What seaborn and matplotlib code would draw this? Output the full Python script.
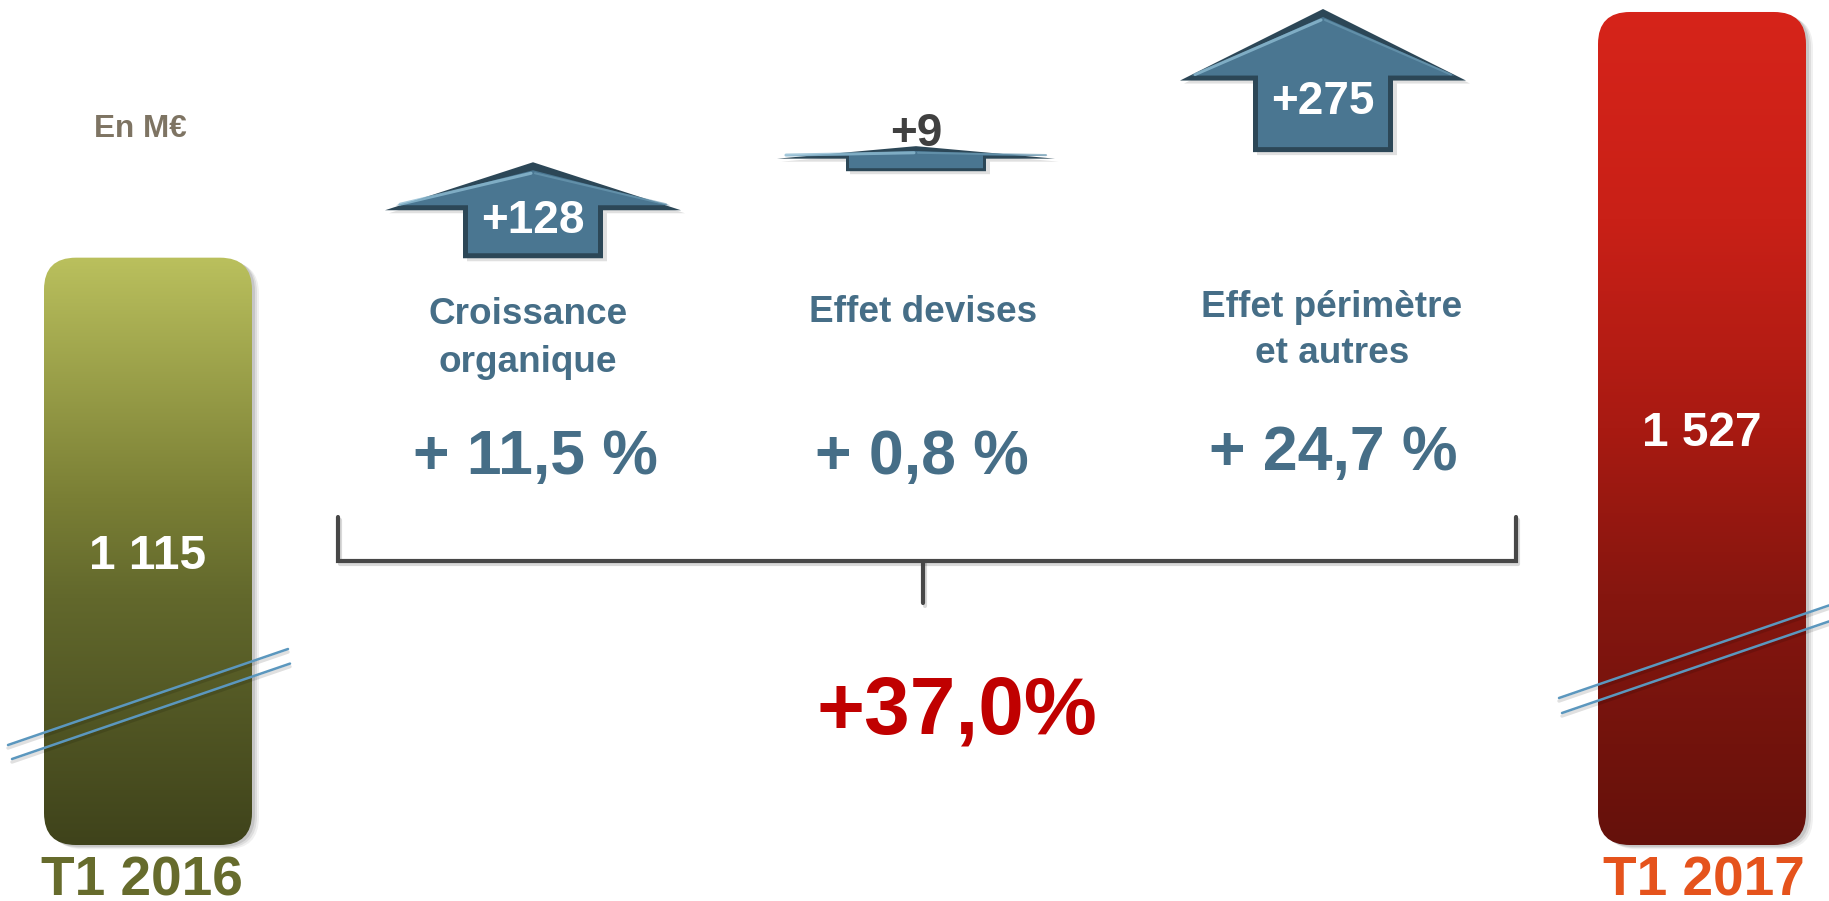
import matplotlib
matplotlib.use("Agg")
import matplotlib.pyplot as plt
from matplotlib.patches import FancyBboxPatch, Polygon
from matplotlib.colors import LinearSegmentedColormap
import numpy as np
import seaborn as sns

# data, in M€
periods = ["T1 2016", "T1 2017"]
revenue = [1115, 1527]
effects = ["Croissance\norganique", "Effet devises", "Effet périmètre\net autres"]
deltas = [128, 9, 275]
effect_pct = [11.5, 0.8, 24.7]
total_pct = 37.0
unit_label = "En M€"

# layout (figure pixels, 1829 x 901)
W, H = 1829, 901
bar_px = [148, 1702]          # bar centres
bar_w_px = 208
floor = 130                   # axis break, bars start here
y_lo, y_hi = 36.1, 1547.1     # M€ range of the figure height
k = H / (y_hi - y_lo)         # px per M€

arrow_x = [533, 916, 1323]
arrow_base = [1114, 1260, 1292]   # M€, as drawn in the picture
arrow_tip = [1275, 1302, 1532]
arrow_wing = [148, 139, 143]
shaft_hw = 70

bar_cmaps = [
    LinearSegmentedColormap.from_list("olive", [(0, "#BAC05D"), (0.41, "#7A7F35"),
                                                (0.58, "#62682C"), (1, "#3F431B")]),
    LinearSegmentedColormap.from_list("red", [(0, "#D6241A"), (0.25, "#C92017"),
                                              (0.5, "#A81A12"), (0.7, "#86160F"), (1, "#65110B")]),
]
period_colors = ["#666B2C", "#E5531C"]
blue_txt = "#466E87"

sns.set_theme(style="white")
plt.rcParams["font.family"] = ["Liberation Sans", "DejaVu Sans"]
plt.rcParams["font.weight"] = "bold"

fig = plt.figure(figsize=(W / 100, H / 100), dpi=100)
ax = fig.add_axes([0, 0, 1, 1])
span = bar_px[1] - bar_px[0]
sns.barplot(x=periods, y=revenue, ax=ax, width=bar_w_px / span, color="#999999")
ax.set_xlim(-bar_px[0] / span, (W - bar_px[0]) / span)
ax.set_ylim(y_lo, y_hi)
ax.axis("off")

ax2 = ax.twiny()
ax2.set_xlim(0, W)
ax2.axis("off")

# rounded gradient bars, built from the seaborn bars
grad = np.linspace(0, 1, 256).reshape(-1, 1)
x0_lim = ax.get_xlim()[0]
for i, p in enumerate(ax.patches):
    px = (p.get_x() - x0_lim) * span
    pw = p.get_width() * span
    top = p.get_height()
    p.set_visible(False)
    for off, a in [(7, 0.06), (5, 0.08), (3, 0.1)]:
        sh = FancyBboxPatch((px + off, floor - off * 0.6 / k), pw, top - floor,
                            boxstyle="round,pad=0,rounding_size=32", mutation_aspect=1 / k,
                            facecolor="black", edgecolor="none", alpha=a, zorder=1)
        ax2.add_patch(sh)
    clip = FancyBboxPatch((px, floor), pw, top - floor,
                          boxstyle="round,pad=0,rounding_size=32", mutation_aspect=1 / k,
                          facecolor="none", edgecolor="none")
    ax2.add_patch(clip)
    im = ax2.imshow(grad, extent=(px, px + pw, floor, top), origin="upper",
                    aspect="auto", cmap=bar_cmaps[i], zorder=2)
    im.set_clip_path(clip)
    ax2.annotate(f"{revenue[i]:,}".replace(",", " "), (px + pw / 2, (floor + top) / 2),
                 xytext=(0, -12.6), textcoords="offset points", ha="center", va="baseline",
                 color="white", fontsize=34.5, fontweight="bold", zorder=5)


def arrow_poly(cx, base, tip, hw, sw, wing):
    return [(cx - sw, base), (cx - sw, wing), (cx - hw, wing), (cx, tip),
            (cx + hw, wing), (cx + sw, wing), (cx + sw, base)]


# up arrows for each effect
for i, d in enumerate(deltas):
    cx, b, t, hw = arrow_x[i], arrow_base[i], arrow_tip[i], arrow_wing[i]
    wing = b + 0.5 * (t - b)
    ins = 3 if d < 50 else 5
    dy = ins / k
    # shadow
    ax2.add_patch(Polygon([(x + 4, y - 3 / k) for x, y in arrow_poly(cx, b, t, hw, shaft_hw, wing)],
                          closed=True, facecolor="black", alpha=0.12, edgecolor="none", zorder=3))
    ax2.add_patch(Polygon(arrow_poly(cx, b, t, hw, shaft_hw, wing), closed=True,
                          facecolor="#2C4757", edgecolor="none", zorder=3))
    ax2.add_patch(Polygon(arrow_poly(cx, b + dy, t - 1.6 * dy, hw - 2.2 * ins, shaft_hw - ins, wing + dy),
                          closed=True, facecolor="#4A7691", edgecolor="none", zorder=3))
    # light bevel on the head
    ax2.plot([cx - hw + 3 * ins, cx - 2], [wing + 1.2 * dy, t - 2.2 * dy],
             color="#8DBBD2", lw=2.2, alpha=0.8, zorder=3, solid_capstyle="round")
    ax2.plot([cx + 2, cx + hw - 3 * ins], [t - 2.2 * dy, wing + 1.2 * dy],
             color="#6C9AB3", lw=1.5, alpha=0.7, zorder=3, solid_capstyle="round")
    if d < 50:
        ax2.annotate(f"+{d}", (cx, t), xytext=(0, 0), textcoords="offset points",
                     ha="center", va="baseline", color="#404040", fontsize=33,
                     fontweight="bold", zorder=5)
    else:
        ax2.annotate(f"+{d}", (cx, wing + 0.47 * (b - wing)), xytext=(0, 0), textcoords="offset points",
                     ha="center", va="baseline", color="white", fontsize=33,
                     fontweight="bold", zorder=5)

ax2.set_xlim(0, W)
ax2.set_ylim(y_lo, y_hi)

# overlay in plain figure pixels
ax3 = fig.add_axes([0, 0, 1, 1], label="overlay")
ax3.set_xlim(0, W)
ax3.set_ylim(H, 0)
ax3.axis("off")
ax3.patch.set_visible(False)

# axis break marks
for xs, ys in [([8, 288], [745, 649]), ([12, 290], [759, 663.6]),
               ([1559, 1829], [698, 605.4]), ([1562, 1829], [713, 621.4])]:
    ax3.plot(xs, [y + 3 for y in ys], color="black", alpha=0.12, lw=2.5)
    ax3.plot(xs, ys, color="#5B97BE", lw=1.8)

# bracket
bx = [338, 338, 1516, 1516]
by = [517, 561, 561, 517]
ax3.plot([x + 2 for x in bx], [y + 3 for y in by], color="black", alpha=0.15, lw=3)
ax3.plot([925, 925], [564, 606], color="black", alpha=0.15, lw=3)
ax3.plot(bx, by, color="#474747", lw=3, solid_joinstyle="miter")
ax3.plot([923, 923], [561, 603], color="#474747", lw=3, solid_capstyle="round")

# texts (baseline of the last line)
label_pos = [(528, 372), (923, 322), (1332, 363)]
label_ls = [1.48, 1.3, 1.42]
pct_pos = [(535, 474), (922, 474), (1333, 470)]
for i, lab in enumerate(effects):
    ax3.text(*label_pos[i], lab, ha="center", va="baseline", color=blue_txt,
             fontsize=26.6, fontweight="bold", linespacing=label_ls[i])
    ax3.text(*pct_pos[i], f"+ {effect_pct[i]:.1f} %".replace(".", ","), ha="center",
             va="baseline", color=blue_txt, fontsize=45, fontweight="bold")

ax3.text(957, 734, f"+{total_pct:.1f}%".replace(".", ","), ha="center", va="baseline",
         color="#C00000", fontsize=59, fontweight="bold")
ax3.text(140, 137, unit_label, ha="center", va="baseline", color="#7E7463",
         fontsize=22.7, fontweight="bold")
for i, per in enumerate(periods):
    ax3.text([142, 1704][i], 895, per, ha="center", va="baseline", color=period_colors[i],
             fontsize=39.6, fontweight="bold")

fig.savefig("out.png", dpi=100)
